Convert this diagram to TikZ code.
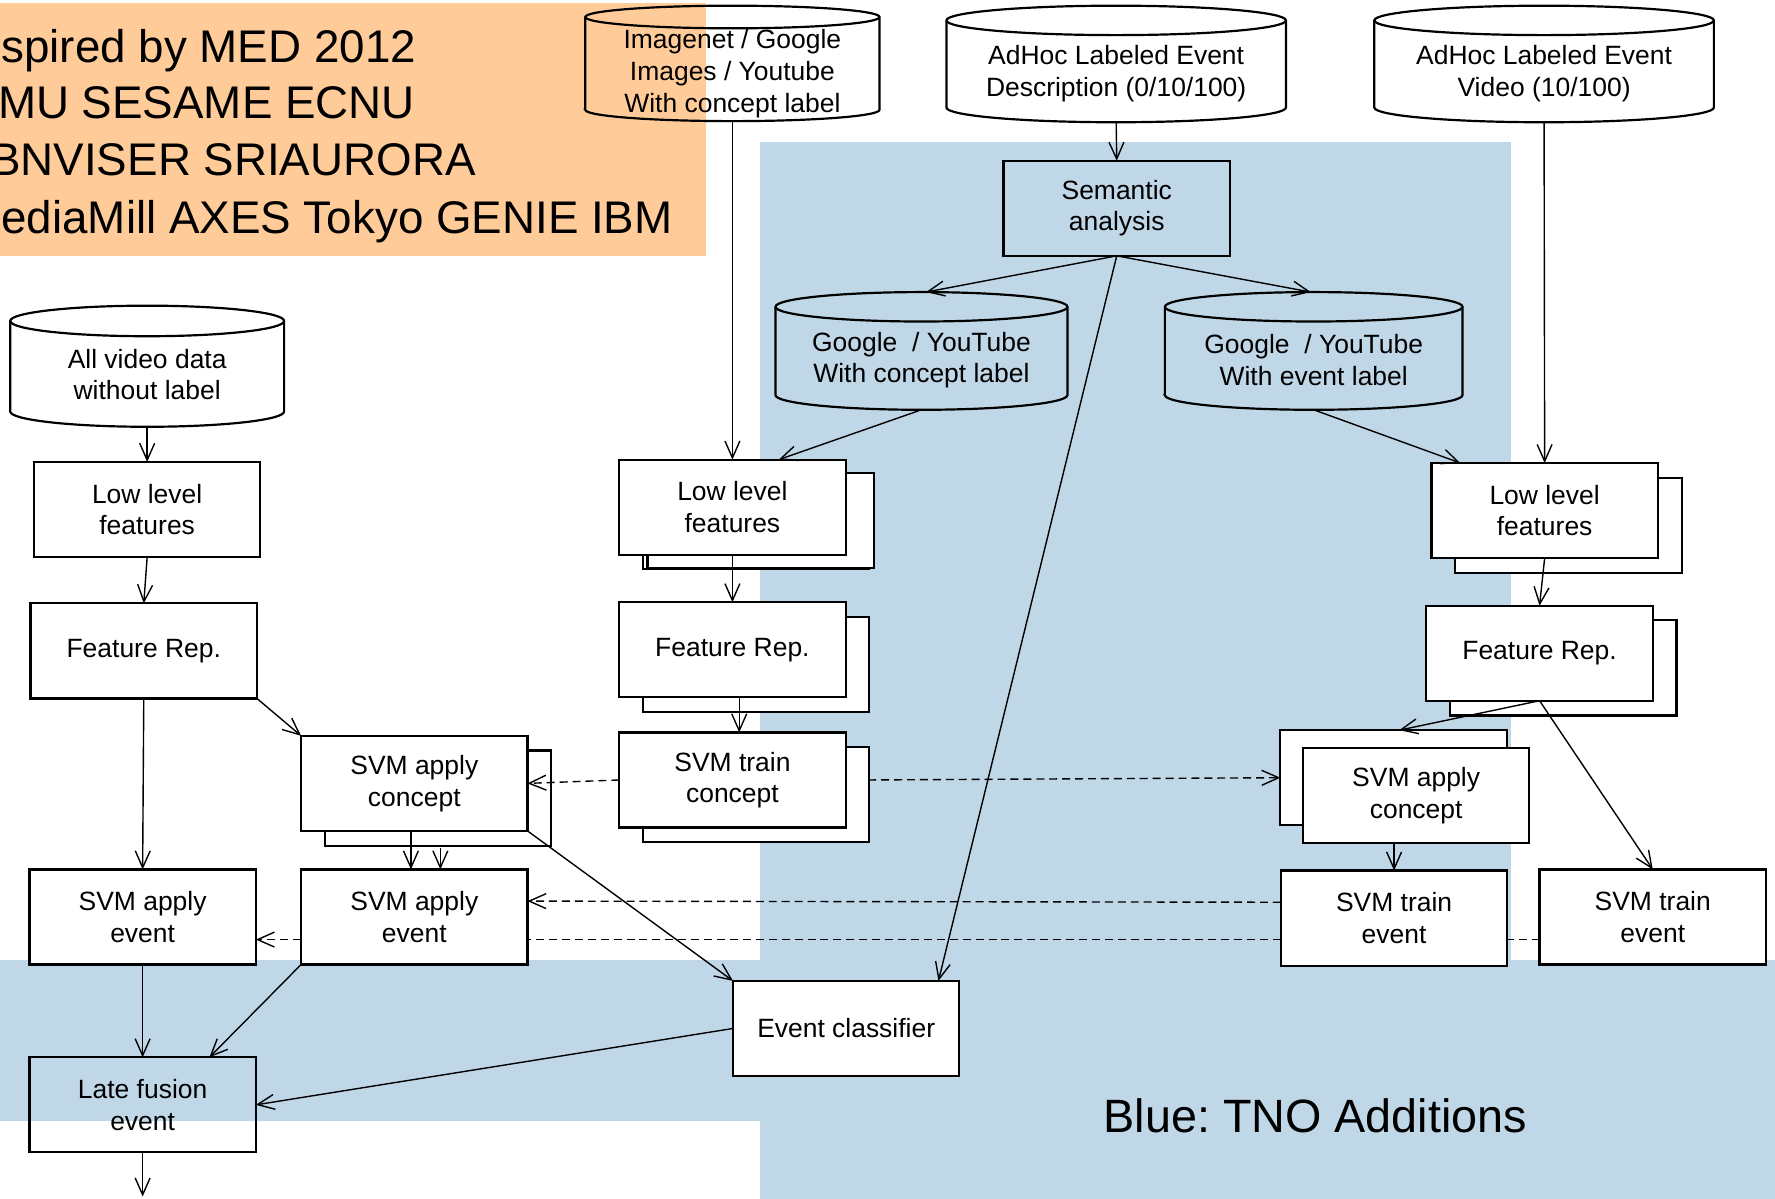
\documentclass[tikz,border=0pt]{standalone}
\usepackage{fontspec}
\setmainfont{Liberation Sans}
\usetikzlibrary{positioning,shadows,arrows.meta}

\definecolor{tnoblue}{RGB}{192,215,231}
\definecolor{medorange}{RGB}{255,204,153}

\pgfdeclarelayer{back}
\pgfdeclarelayer{frame}
\pgfsetlayers{back,frame,main}

% cylinder outline round a named node: name, fill, half width, height, end radius
\newcommand{\dbframe}[5]{%
  \filldraw[line width=1.1pt,fill=#2]
    ([yshift=#5]#1.south west) -- ++(0,#4-2*#5)
    arc[start angle=180,end angle=0,x radius=#3,y radius=#5]
    -- ([yshift=#5]#1.south east)
    arc[start angle=0,end angle=-180,x radius=#3,y radius=#5] -- cycle;
  \draw[line width=1.1pt] ([yshift=#4-#5]#1.south west)
    arc[start angle=180,end angle=360,x radius=#3,y radius=#5];
  \coordinate (#1-top) at ([yshift=#4]#1.south);
}

\begin{document}
\frenchspacing
\begin{tikzpicture}[
  x=0.02cm, y=-0.02cm,
  every node/.style={font=\fontsize{13.3}{15.9}\selectfont},
  box/.style={draw,line width=1.1pt,fill=white,minimum width=4cm,minimum height=1.68cm,
    align=center,inner sep=0pt,outer sep=0pt},
  openbox/.style={box,fill=none},
  stackbox/.style={box,copy shadow={shadow xshift=0.42cm,shadow yshift=-0.26cm,draw=black,fill=white}},
  db/.style={rectangle,align=center,inner sep=0pt,outer sep=0pt},
  bigtext/.style={font=\fontsize{23}{28}\selectfont,inner sep=0pt},
  link/.style={line width=0.7pt,-{Straight Barb[length=8.5pt,width=7.5pt]}},
  dashlink/.style={link,dash pattern=on 4pt off 2.5pt}
]
\useasboundingbox (0,0) rectangle (1568,1059);

% background areas
\begin{pgfonlayer}{back}
\fill[medorange] (0,3) rectangle (624,226);
\fill[tnoblue] (671,125) rectangle (1335,1059);
\fill[tnoblue] (1335,848) rectangle (1568,1059);
\fill[tnoblue] (0,848) rectangle (671,990);
\end{pgfonlayer}

\node[bigtext,anchor=base west] (med1) at (1,55) {spired by MED 2012};
\node[bigtext,anchor=base west] (med2) at (-2,105) {MU SESAME ECNU};
\node[bigtext,anchor=base west] (med3) at (-9,155) {BNVISER SRIAURORA};
\node[bigtext,anchor=base west] (med4) at (1,206) {ediaMill AXES Tokyo GENIE IBM};
\node[bigtext,font=\fontsize{23.5}{28}\selectfont] (tno) at (1162,986) {Blue: TNO Additions};

% data sources
\node[db,minimum width=5.2cm,minimum height=1.68cm] (img) at (647,65)
  {Imagenet / Google\\Images / Youtube\\With concept label};
\node[db,minimum width=6cm,minimum height=1.72cm] (desc) at (986,65)
  {AdHoc Labeled Event\\Description (0/10/100)};
\node[db,minimum width=6cm,minimum height=1.72cm] (vid) at (1364,65)
  {AdHoc Labeled Event\\Video (10/100)};
\node[db,minimum width=4.84cm,minimum height=1.84cm] (all) at (130,331)
  {All video data\\without label};
\node[db,minimum width=5.16cm,minimum height=1.76cm] (gcon) at (814,318)
  {Google\ \ / YouTube\\With concept label};
\node[db,minimum width=5.26cm,minimum height=1.76cm] (gev) at (1160.5,318)
  {Google\ \ / YouTube\\With event label};

\begin{pgfonlayer}{frame}
\dbframe{img}{none}{2.6cm}{2.04cm}{0.2cm}
\dbframe{desc}{white}{3cm}{2.06cm}{0.26cm}
\dbframe{vid}{white}{3cm}{2.06cm}{0.26cm}
\dbframe{all}{white}{2.42cm}{2.14cm}{0.27cm}
\dbframe{gcon}{tnoblue}{2.58cm}{2.08cm}{0.26cm}
\dbframe{gev}{tnoblue}{2.63cm}{2.08cm}{0.26cm}
\end{pgfonlayer}

% left column
\node[box] (llfA) at (130,450) {Low level\\features};
\node[box] (frA) at (127,575) {Feature Rep.};
\node[stackbox] (svmacA) at (366,692) {SVM apply\\concept};
\node[box] (svmaeA) at (126,810) {SVM apply\\event};
\node[box] (svmaeB) at (366,810) {SVM apply\\event};
\node[openbox] (late) at (126,976) {Late fusion\\event};
\coordinate (out) at (126,1057);

% middle column
\node[stackbox,copy shadow={shadow xshift=0.5cm,shadow yshift=-0.24cm,draw=black,fill=white}] (llfB) at (647,448) {Low level\\features};
\node[stackbox] (frB) at (647,574) {Feature Rep.};
\node[stackbox] (svmtc) at (647,689) {SVM train\\concept};
\node[box] (evc) at (747.5,908.5) {Event classifier};
\node[openbox] (sem) at (986.5,184) {Semantic\\analysis};

% right column
\node[stackbox] (llfC) at (1364.5,451) {Low level\\features};
\node[stackbox] (frC) at (1360,577) {Feature Rep.};
\node[box,copy shadow={shadow xshift=-0.4cm,shadow yshift=0.32cm,draw=black,fill=white}] (svmacC) at (1251,703) {SVM apply\\concept};
\node[box] (svmteA) at (1231.5,811) {SVM train\\event};
\node[box] (svmteB) at (1460,810) {SVM train\\event};

% connectors
\draw[link] (img.south) -- (llfB.north);
\draw[link] (desc.south) -- (sem.north);
\draw[link] (vid.south) -- (llfC.north);
\draw[link] (all.south) -- (llfA.north);
\draw[link] (llfA.south) -- (frA.north);
\draw[link] (sem.south) -- ([xshift=0.08cm]gcon-top);
\draw[link] (sem.south) -- ([xshift=-0.05cm]gev-top);
\draw[link] (sem.south) -- ([xshift=1.63cm]evc.north);
\draw[link] (gcon.south) -- ([xshift=0.82cm]llfB.north);
\draw[link] (gev.south) -- ([xshift=-1.49cm]llfC.north);
\draw[link] (llfB.south) -- (frB.north);
\draw[link] ([xshift=0.12cm]frB.south) -- ([xshift=0.12cm]svmtc.north);
\draw[link] (frA.south) -- (svmaeA.north);
\draw[link] (frA.south east) -- (svmacA.north west);
\draw[link] ([xshift=-0.06cm]svmacA.south) -- ([xshift=-0.06cm]svmaeB.north);
\draw[link] ([xshift=0.46cm,yshift=-0.3cm]svmacA.south) -- ([xshift=0.46cm]svmaeB.north);
\draw[link] (svmacA.south east) -- (evc.north west);
\draw[link] (llfC.south) -- (frC.north);
\draw[link] (frC.south) -- ([xshift=-0.3cm,yshift=0.32cm]svmacC.north);
\draw[link] (frC.south) -- (svmteB.north);
\draw[link] (svmacC.south -| svmteA.north) -- (svmteA.north);
\draw[link] (svmaeA.south) -- (late.north);
\draw[link] (svmaeB.south west) -- ([xshift=1.18cm]late.north);
\draw[link] (evc.west) -- (late.east);
\draw[link] (late.south) -- (out);

% dashed links
\draw[dashlink] (svmtc.west) -- (svmacA.east);
\draw[dashlink] ([xshift=0.4cm]svmtc.east) -- ([xshift=-0.4cm,yshift=0.32cm]svmacC.west);
\draw[dashlink] ([yshift=0.28cm]svmteA.west) -- ([yshift=0.28cm]svmaeB.east);
\coordinate (d1) at ([yshift=-0.4cm]svmteB.west);
\coordinate (d2) at ([yshift=-0.4cm]svmaeB.west);
\draw[line width=0.7pt,dash pattern=on 4pt off 2.5pt] (d1) -- (d1 -| svmteA.east);
\draw[line width=0.7pt,dash pattern=on 4pt off 2.5pt] (d1 -| svmteA.west) -- (d1 -| svmaeB.east);
\draw[dashlink] (d2) -- (d2 -| svmaeA.east);
\end{tikzpicture}
\end{document}
